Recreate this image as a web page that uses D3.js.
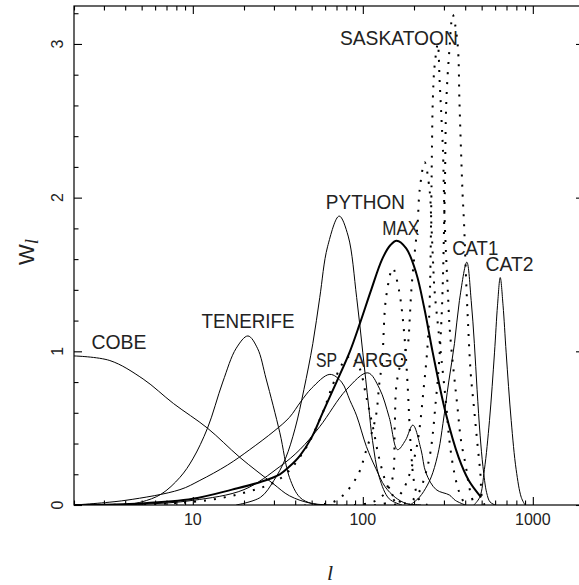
<!DOCTYPE html>
<html>
<head>
<meta charset="utf-8">
<script src="https://cdn.jsdelivr.net/npm/d3@7"></script>
<style>
  body { margin: 0; background: #fff; }
  text { font-family: "Liberation Sans", Arial, sans-serif; fill: #222; }
</style>
</head>
<body>
<div id="chart"></div>
<script>
// window functions, l and W_l

var cobeL = [2, 3.25, 5.1, 7.7, 12.2, 18.9, 29.6, 37, 50, 70];
var cobeW = [0.97, 0.94, 0.82, 0.66, 0.50, 0.31, 0.14, 0.06, 0.01, 0];

var tenerifeL = [4, 5, 6.5, 8.4, 10, 12.2, 15, 18, 21.1, 24, 27, 32.5, 37, 42.6, 50, 60];
var tenerifeW = [0, 0.02, 0.07, 0.18, 0.3, 0.5, 0.8, 1.02, 1.10, 1.02, 0.82, 0.47, 0.18, 0.05, 0.01, 0];

var pythonL = [18, 25, 30, 35, 40, 45, 50.8, 55.8, 62, 72.6, 82, 92, 100, 108, 114, 125, 143, 170];
var pythonW = [0, 0.05, 0.16, 0.3, 0.5, 0.75, 1.05, 1.35, 1.68, 1.88, 1.75, 1.35, 0.99, 0.65, 0.42, 0.18, 0.04, 0];

var spL = [2, 4, 8.4, 11, 16, 21.6, 30, 37, 43, 50, 64, 75, 84, 92, 105, 119, 135, 155, 180, 220];
var spW = [0, 0.03, 0.1, 0.16, 0.26, 0.36, 0.48, 0.57, 0.67, 0.76, 0.85, 0.8, 0.68, 0.58, 0.38, 0.24, 0.12, 0.05, 0.01, 0];

var argoL = [2, 5, 10, 20, 32.5, 42.6, 55.8, 80, 107, 125, 143, 160, 178, 197, 220, 235, 270, 323, 350, 400];
var argoW = [0, 0.005, 0.03, 0.1, 0.25, 0.36, 0.51, 0.75, 0.86, 0.76, 0.57, 0.36, 0.42, 0.52, 0.36, 0.21, 0.1, 0.065, 0.03, 0];

var maxL = [2, 5, 10, 17, 25, 32.5, 37, 42.6, 50, 58, 70, 84, 96, 112, 130, 145, 158, 180, 206, 230, 258, 307, 366, 420, 497];
var maxW = [0, 0.01, 0.04, 0.1, 0.15, 0.2, 0.25, 0.32, 0.44, 0.6, 0.8, 1.0, 1.18, 1.4, 1.6, 1.69, 1.72, 1.67, 1.51, 1.28, 0.99, 0.6, 0.31, 0.16, 0.05];

var cat1L = [190, 215, 240, 258, 280, 296, 320, 346, 370, 409, 434, 453, 470, 490, 509, 535, 560, 600];
var cat1W = [0, 0.05, 0.13, 0.21, 0.36, 0.53, 0.8, 1.05, 1.33, 1.58, 1.33, 1.05, 0.75, 0.45, 0.25, 0.08, 0.02, 0];

var cat2L = [450, 487, 519, 556, 595, 620, 643, 668, 697, 746, 798, 855, 900];
var cat2W = [0, 0.05, 0.23, 0.55, 0.99, 1.3, 1.48, 1.3, 0.99, 0.55, 0.23, 0.05, 0];

// saskatoon, five dotted windows
var sask0L = [2, 10, 20, 32.5, 45, 58, 67, 76, 85, 95, 105, 115, 125, 140, 160, 190];
var sask0W = [0, 0.02, 0.08, 0.17, 0.35, 0.6, 0.79, 0.92, 0.97, 0.9, 0.7, 0.5, 0.3, 0.12, 0.03, 0];
var sask1L = [2, 50, 70, 92, 105, 119, 125, 130, 137, 150, 163, 175, 183, 192, 201, 216, 240];
var sask1W = [0, 0, 0.03, 0.18, 0.36, 0.57, 0.79, 0.94, 1.35, 1.54, 1.4, 1.12, 0.8, 0.36, 0.14, 0.03, 0];
var sask2L = [2, 90, 120, 140, 150, 154, 158, 170, 184, 188, 193, 201, 210, 216, 231, 247, 253, 258, 264, 276, 285, 310, 323, 345, 370, 400];
var sask2W = [0, 0, 0.03, 0.1, 0.18, 0.5, 0.79, 0.95, 1.05, 1.18, 1.4, 1.62, 1.83, 2.05, 2.23, 2.05, 1.83, 1.62, 1.4, 1.18, 1.03, 0.64, 0.42, 0.21, 0.08, 0];
var sask3L = [2, 120, 160, 200, 230, 245, 253, 255, 258, 264, 276, 283, 290, 296, 302, 309, 316, 323, 331, 360, 378, 404, 422, 450];
var sask3W = [0, 0, 0.05, 0.3, 0.8, 1.2, 2.0, 2.31, 2.63, 2.85, 3.0, 2.76, 2.52, 2.31, 1.9, 1.62, 1.4, 1.18, 1.03, 0.64, 0.42, 0.25, 0.12, 0];
var sask4L = [2, 150, 200, 240, 270, 290, 303, 310, 323, 338, 361, 370, 378, 386, 394, 404, 415, 431, 450, 470, 491, 502, 520];
var sask4W = [0, 0, 0.04, 0.25, 0.7, 1.2, 2.0, 2.63, 2.96, 3.19, 3.0, 2.63, 2.31, 2.03, 1.83, 1.5, 1.2, 0.86, 0.64, 0.42, 0.21, 0.05, 0];

var xMajor = [10, 100, 1000];
var xMinor = [2, 3, 4, 5, 6, 7, 8, 9, 20, 30, 40, 50, 60, 70, 80, 90, 200, 300, 400, 500, 600, 700, 800, 900];
var yMajor = [0, 1, 2, 3];
var yMinor = [0.2, 0.4, 0.6, 0.8, 1.2, 1.4, 1.6, 1.8, 2.2, 2.4, 2.6, 2.8, 3.2];

// label anchor (left end of baseline) in data units, and drawn width
var labels = [
  {t: "COBE", l: 2.535, w: 1.013, len: 55},
  {t: "TENERIFE", l: 11.25, w: 1.15, len: 93},
  {t: "PYTHON", l: 60.6, w: 1.924, len: 79},
  {t: "MAX", l: 130, w: 1.757, len: 37},
  {t: "SASKATOON", l: 73.3, w: 2.993, len: 118},
  {t: "CAT1", l: 335.5, w: 1.627, len: 46},
  {t: "CAT2", l: 527, w: 1.525, len: 48},
  {t: "SP", l: 53, w: 0.9, len: 21},
  {t: "ARGO", l: 87.3, w: 0.9, len: 54}
];

var width = 579, height = 585;
var margin = {left: 74, right: 584, top: 6, bottom: 505};

var svg = d3.select("#chart").append("svg")
    .attr("width", width)
    .attr("height", height);

var x = d3.scaleLog().domain([2, 2000]).range([margin.left, margin.right]);
var y = d3.scaleLinear().domain([0, 3.247]).range([margin.bottom, margin.top]);

svg.append("clipPath").attr("id", "clip")
  .append("rect").attr("x", margin.left).attr("y", margin.top)
  .attr("width", margin.right - margin.left).attr("height", margin.bottom - margin.top);

// frame
svg.append("rect")
    .attr("x", margin.left).attr("y", margin.top)
    .attr("width", margin.right - margin.left).attr("height", margin.bottom - margin.top)
    .style("fill", "none").style("stroke", "#000").style("stroke-width", 1.2);

// ticks, all pointing in
function ticks(axisFn, scale, vals, size, tx) {
  svg.append("g")
    .attr("transform", tx)
    .call(axisFn(scale).tickValues(vals).tickSize(size).tickFormat(""))
    .call(function(g) { g.select(".domain").remove(); })
    .selectAll("line").style("stroke", "#000").style("stroke-width", 1.1);
}
ticks(d3.axisBottom, x, xMajor, -8, "translate(0," + margin.bottom + ")");
ticks(d3.axisBottom, x, xMinor, -4.5, "translate(0," + margin.bottom + ")");
ticks(d3.axisTop, x, xMajor, -8, "translate(0," + margin.top + ")");
ticks(d3.axisTop, x, xMinor, -4.5, "translate(0," + margin.top + ")");
ticks(d3.axisLeft, y, yMajor, -8, "translate(" + margin.left + ",0)");
ticks(d3.axisLeft, y, yMinor, -4.5, "translate(" + margin.left + ",0)");
ticks(d3.axisRight, y, yMajor, -8, "translate(" + margin.right + ",0)");
ticks(d3.axisRight, y, yMinor, -4.5, "translate(" + margin.right + ",0)");

// tick labels
svg.selectAll(".xl").data(xMajor).enter().append("text")
    .attr("x", function(d) { return x(d); })
    .attr("y", 525)
    .style("text-anchor", "middle")
    .style("font-size", "16px")
    .text(function(d) { return d; });

svg.selectAll(".yl").data(yMajor).enter().append("text")
    .attr("transform", function(d) { return "translate(63," + y(d) + ") rotate(-90)"; })
    .style("text-anchor", "middle")
    .style("font-size", "16px")
    .text(function(d) { return d; });

// axis titles
svg.append("text")
    .attr("x", 330).attr("y", 580)
    .style("text-anchor", "middle")
    .style("font-family", "'Liberation Serif', serif")
    .style("font-style", "italic")
    .style("font-size", "22px")
    .text("l");

var wl = svg.append("text")
    .attr("transform", "translate(34,252) rotate(-90)")
    .style("text-anchor", "middle")
    .style("font-size", "22px");
wl.append("tspan").text("W");
wl.append("tspan")
    .attr("dy", 4)
    .style("font-family", "'Liberation Serif', serif")
    .style("font-style", "italic")
    .style("font-size", "19px")
    .text("l");

// curves
var line = d3.line()
    .x(function(d) { return x(d[0]); })
    .y(function(d) { return y(d[1]); })
    .curve(d3.curveCatmullRom.alpha(0.5));

function curve(ls, ws, sw, dash) {
  var pts = ls.map(function(l, i) { return [l, ws[i]]; });
  var p = svg.append("path")
      .datum(pts)
      .attr("clip-path", "url(#clip)")
      .attr("d", line)
      .style("fill", "none")
      .style("stroke", "#000")
      .style("stroke-width", sw);
  if (dash) p.style("stroke-dasharray", dash);
}

curve(cobeL, cobeW, 1);
curve(tenerifeL, tenerifeW, 1);
curve(pythonL, pythonW, 1);
curve(spL, spW, 1);
curve(argoL, argoW, 1);
curve(cat1L, cat1W, 1);
curve(cat2L, cat2W, 1);
curve(maxL, maxW, 2);
curve(sask0L, sask0W, 2, "2,8");
curve(sask1L, sask1W, 2, "2,8");
curve(sask2L, sask2W, 2, "2,8");
curve(sask3L, sask3W, 2, "2,8");
curve(sask4L, sask4W, 2, "2,8");

// experiment names
svg.selectAll(".lab").data(labels).enter().append("text")
    .attr("x", function(d) { return x(d.l); })
    .attr("y", function(d) { return y(d.w); })
    .attr("textLength", function(d) { return d.len; })
    .attr("lengthAdjust", "spacingAndGlyphs")
    .style("font-size", "21px")
    .text(function(d) { return d.t; });
</script>
</body>
</html>
